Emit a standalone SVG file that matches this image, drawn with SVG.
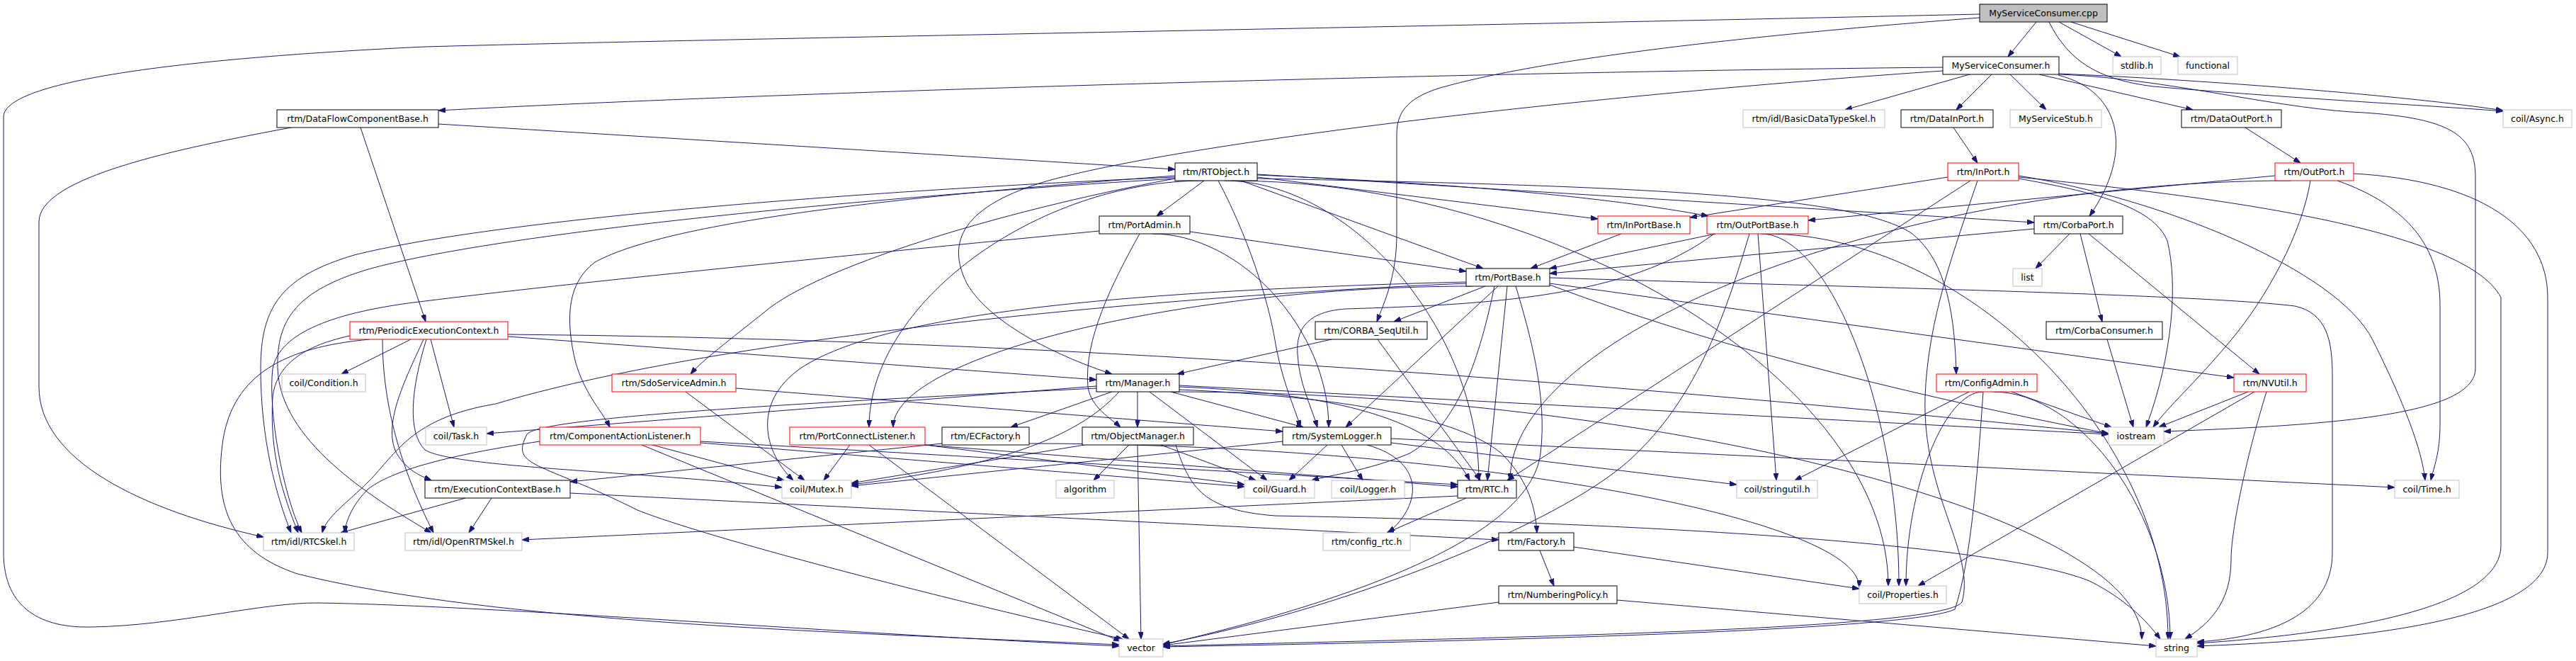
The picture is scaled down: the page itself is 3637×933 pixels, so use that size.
<svg xmlns="http://www.w3.org/2000/svg" width="3637" height="933" viewBox="0 0 3637 933">
<style>
.node rect{fill:#ffffff;stroke:#000000;stroke-width:1}
.node.ext rect{stroke:#bfbfbf}
.node.red rect{stroke:#ff0000}
.node.root rect{fill:#bfbfbf;stroke:#000000}
.node text{font-family:"DejaVu Sans","Liberation Sans",sans-serif;font-size:12.5px;fill:#000000;text-anchor:middle}
.e{fill:none;stroke:#191970;stroke-width:1;marker-end:url(#ah)}
</style>
<defs>
<marker id="ah" viewBox="0 0 10 7" refX="10" refY="3.5" markerWidth="10" markerHeight="7" markerUnits="userSpaceOnUse" orient="auto"><path d="M0,0L10,3.5L0,7z" fill="#191970" stroke="#191970"/></marker>
</defs>
<rect width="3637" height="933" fill="#ffffff"/>
<g id="edges">
<path class="e" d="M2875,31 L2835,80"/>
<path class="e" d="M2907,31 L2995,80"/>
<path class="e" d="M2924,31 L3078,80"/>
<path class="e" d="M2893,31 C2920,85 2960,112 3040,122 C3250,140 3450,150 3534,157"/>
<path class="e" d="M2795,20 C2000,38 1000,55 600,66 C300,80 5,110 5,165 L5,780 C5,860 60,887 130,885 C250,883 370,850 450,851 C700,855 1200,895 1580,912"/>
<path class="e" d="M2795,25 C2400,55 2150,90 2030,125 C1985,140 1972,160 1972,190 L1972,330 C1972,390 1955,425 1944,454"/>
<path class="e" d="M2743,95 C2200,100 1200,125 619,156"/>
<path class="e" d="M2743,100 C2300,130 1700,195 1480,255 C1360,290 1335,340 1365,400 C1400,460 1500,505 1570,528"/>
<path class="e" d="M2781,105 L2605,155"/>
<path class="e" d="M2812,105 L2762,155"/>
<path class="e" d="M2838,105 L2889,155"/>
<path class="e" d="M2906,106 C3000,130 3010,220 2950,305"/>
<path class="e" d="M2879,105 L3096,155"/>
<path class="e" d="M2907,104 C3100,112 3400,135 3534,156"/>
<path class="e" d="M2907,105 C3050,110 3200,150 3320,158 C3460,165 3495,190 3495,250 L3495,520 C3495,585 3300,600 3055,609"/>
<path class="e" d="M619,175 L1659,239"/>
<path class="e" d="M509,180 L601,454"/>
<path class="e" d="M411,180 C250,210 55,250 55,313 L55,546 C55,650 200,720 372,758"/>
<path class="e" d="M2758,180 L2792,230"/>
<path class="e" d="M3170,180 L3248,230"/>
<path class="e" d="M1700,255 L1633,305"/>
<path class="e" d="M1752,255 L2094,379"/>
<path class="e" d="M1775,250 L2256,309"/>
<path class="e" d="M1775,247 Q2200,265 2412,305"/>
<path class="e" d="M1775,246 L2872,314"/>
<path class="e" d="M1775,252 C2300,262 2620,275 2700,330 C2750,370 2760,450 2762,528"/>
<path class="e" d="M1737,255 C2201,255 2666,541 2666,827"/>
<path class="e" d="M1659,252 C1400,300 1150,380 1080,440 C1030,480 990,510 975,528"/>
<path class="e" d="M1659,248 C1300,275 950,310 840,370 C800,400 800,450 810,500 C820,550 850,580 861,603"/>
<path class="e" d="M1700,255 C1463,255 1227,429 1227,603"/>
<path class="e" d="M1720,255 C1760,330 1790,420 1800,480 C1810,540 1830,580 1836,603"/>
<path class="e" d="M1728,255 C1908,255 2088,466 2088,678"/>
<path class="e" d="M1659,250 C1200,270 700,310 500,360 C400,390 368,430 368,520 C368,620 390,700 411,752"/>
<path class="e" d="M1659,252 C1200,280 700,330 520,380 C420,410 390,450 392,520 C395,620 520,700 609,752"/>
<path class="e" d="M1680,327 L2070,383"/>
<path class="e" d="M1609,330 C1570,400 1530,480 1536,546 C1540,575 1570,592 1582,603"/>
<path class="e" d="M1627,330 C1752,330 1876,466 1876,603"/>
<path class="e" d="M1552,326 C1200,360 800,400 600,425 C470,440 395,470 385,520 C378,580 400,700 426,752"/>
<path class="e" d="M2289,330 L2161,379"/>
<path class="e" d="M2422,330 L2188,379"/>
<path class="e" d="M2420,330 C2300,420 2100,430 1900,436 C1840,440 1830,470 1832,500 C1834,540 1850,570 1860,603"/>
<path class="e" d="M2482,330 L2508,678"/>
<path class="e" d="M2486,330 C2583,330 2681,578 2681,827"/>
<path class="e" d="M2470,330 C2440,430 2400,560 2300,650 C2200,740 1900,860 1642,909"/>
<path class="e" d="M2493,330 C2777,330 3061,616 3061,902"/>
<path class="e" d="M2750,250 L2386,307"/>
<path class="e" d="M2782,255 L2128,678"/>
<path class="e" d="M2792,255 C2760,350 2722,450 2718,560 C2714,700 2790,780 2770,850 C2740,890 2100,900 1642,912"/>
<path class="e" d="M2850,250 C3100,275 3480,320 3531,420 L3531,770 C3531,860 3300,895 3102,908"/>
<path class="e" d="M2850,248 C3050,280 3300,380 3350,480 C3400,580 3420,640 3424,678"/>
<path class="e" d="M2850,252 C2950,270 3040,290 3060,340 C3075,400 3068,500 3030,603"/>
<path class="e" d="M3212,248 L2553,311"/>
<path class="e" d="M3234,255 C2683,255 2132,466 2132,678"/>
<path class="e" d="M3262,255 C3250,330 3200,420 3150,480 C3100,540 3060,575 3040,603"/>
<path class="e" d="M3300,255 C3400,290 3445,350 3445,430 L3445,600 C3445,640 3436,660 3432,678"/>
<path class="e" d="M3323,245 C3500,255 3597,320 3597,420 L3597,780 C3597,880 3300,905 3102,912"/>
<path class="e" d="M2872,323 L2188,386"/>
<path class="e" d="M2922,330 L2874,379"/>
<path class="e" d="M2937,330 L2968,454"/>
<path class="e" d="M2949,330 L3190,528"/>
<path class="e" d="M2097,404 L1968,454"/>
<path class="e" d="M2115,404 L1900,603"/>
<path class="e" d="M2110,404 C2090,500 2060,600 1990,640 C1930,665 1880,670 1852,678"/>
<path class="e" d="M2128,404 L2100,678"/>
<path class="e" d="M2140,404 C2160,470 2185,560 2175,640 C2160,760 1900,850 1642,910"/>
<path class="e" d="M2078,404 C1670,404 1261,503 1261,603"/>
<path class="e" d="M2070,400 C1600,420 1000,480 700,570 C580,590 560,640 520,680 C490,710 460,730 455,752"/>
<path class="e" d="M2070,398 C1600,410 1250,440 1130,520 C1060,570 1080,640 1120,678"/>
<path class="e" d="M2188,402 Q2500,520 2977,612"/>
<path class="e" d="M2188,392 C2600,405 3100,415 3240,432 C3285,442 3293,480 3293,530 L3293,780 C3293,870 3200,900 3102,906"/>
<path class="e" d="M2188,400 L3154,533"/>
<path class="e" d="M580,479 L482,528"/>
<path class="e" d="M608,479 L641,603"/>
<path class="e" d="M602,479 C580,550 575,610 600,635 C640,660 900,665 1104,688"/>
<path class="e" d="M522,479 C400,490 330,530 315,620 C300,720 330,780 420,810 C700,880 1200,893 1580,910"/>
<path class="e" d="M717,472 Q1700,480 2977,612"/>
<path class="e" d="M494,474 C420,490 390,520 385,560 C380,640 400,700 421,752"/>
<path class="e" d="M540,479 C540,560 560,650 612,752"/>
<path class="e" d="M717,475 L1548,536"/>
<path class="e" d="M598,479 C570,540 540,600 560,640 C575,665 595,672 609,678"/>
<path class="e" d="M1945,479 L2090,678"/>
<path class="e" d="M1880,479 L1662,528"/>
<path class="e" d="M2975,479 L3012,603"/>
<path class="e" d="M968,553 L1136,678"/>
<path class="e" d="M1039,548 L1811,609"/>
<path class="e" d="M1548,545 L687,612"/>
<path class="e" d="M1548,548 C1100,570 760,590 744,613 C720,660 760,650 900,720 C1000,760 1350,850 1585,902"/>
<path class="e" d="M1570,553 L1427,603"/>
<path class="e" d="M1580,553 C1520,620 1400,660 1202,684"/>
<path class="e" d="M1606,553 L1606,603"/>
<path class="e" d="M1623,553 L1789,678"/>
<path class="e" d="M1653,553 L1840,603"/>
<path class="e" d="M1665,546 C1880,555 2030,590 2075,678"/>
<path class="e" d="M1665,550 C1900,560 2060,590 2120,640 C2160,680 2168,720 2170,752"/>
<path class="e" d="M1665,544 L2977,613"/>
<path class="e" d="M1655,553 C2340,553 3024,728 3024,902"/>
<path class="e" d="M1594,628 L1544,678"/>
<path class="e" d="M1606,628 L1611,902"/>
<path class="e" d="M1531,628 L1202,682"/>
<path class="e" d="M1639,628 L1773,678"/>
<path class="e" d="M1660,628 C1680,690 1700,720 1800,728 C2200,735 2800,760 2950,820 C3000,845 3030,875 3050,902"/>
<path class="e" d="M1330,626 L805,680"/>
<path class="e" d="M1453,626 C2039,626 2625,727 2625,829"/>
<path class="e" d="M1811,623 L1202,686"/>
<path class="e" d="M1874,628 L1820,678"/>
<path class="e" d="M1894,628 L1924,678"/>
<path class="e" d="M1930,628 C2010,650 2010,710 1960,752"/>
<path class="e" d="M1964,625 L2452,684"/>
<path class="e" d="M1964,619 L3381,688"/>
<path class="e" d="M657,703 L481,752"/>
<path class="e" d="M694,703 L662,752"/>
<path class="e" d="M805,696 L2116,762"/>
<path class="e" d="M762,623 C650,640 560,660 520,690 C500,710 490,730 486,752"/>
<path class="e" d="M921,628 L1107,678"/>
<path class="e" d="M989,625 L1757,687"/>
<path class="e" d="M989,623 L2058,684"/>
<path class="e" d="M906,628 L1582,905"/>
<path class="e" d="M1200,628 L1163,678"/>
<path class="e" d="M1227,628 L1594,902"/>
<path class="e" d="M1306,628 L1757,684"/>
<path class="e" d="M1306,628 L2058,687"/>
<path class="e" d="M2780,553 L2534,678"/>
<path class="e" d="M2800,553 C2745,553 2691,690 2691,827"/>
<path class="e" d="M2840,553 L2981,603"/>
<path class="e" d="M2814,553 C2939,553 3064,728 3064,902"/>
<path class="e" d="M2800,553 C2790,700 2780,800 2760,860 C2700,890 2100,905 1642,913"/>
<path class="e" d="M3174,553 L3048,603"/>
<path class="e" d="M3200,553 C3170,650 3150,750 3150,790 C3150,850 3120,880 3085,902"/>
<path class="e" d="M3183,553 L2708,827"/>
<path class="e" d="M2070,703 L1958,752"/>
<path class="e" d="M2058,700 L737,762"/>
<path class="e" d="M2174,777 L2194,827"/>
<path class="e" d="M2222,772 L2625,831"/>
<path class="e" d="M2116,850 L1642,911"/>
<path class="e" d="M2283,847 L3044,912"/>
</g>
<g id="n_cpp" class="node root"><rect x="2795" y="6" width="180" height="25"/><text x="2885" y="23">MyServiceConsumer.cpp</text></g>
<g id="n_msch" class="node"><rect x="2743" y="80" width="164" height="25"/><text x="2825" y="97">MyServiceConsumer.h</text></g>
<g id="n_stdlib" class="node ext"><rect x="2983" y="80" width="68" height="25"/><text x="3017" y="97">stdlib.h</text></g>
<g id="n_functional" class="node ext"><rect x="3075" y="80" width="84" height="25"/><text x="3117" y="97">functional</text></g>
<g id="n_dfcb" class="node"><rect x="391" y="155" width="228" height="25"/><text x="505" y="172">rtm/DataFlowComponentBase.h</text></g>
<g id="n_basicdt" class="node ext"><rect x="2461" y="155" width="200" height="25"/><text x="2561" y="172">rtm/idl/BasicDataTypeSkel.h</text></g>
<g id="n_datainport" class="node"><rect x="2684" y="155" width="130" height="25"/><text x="2749" y="172">rtm/DataInPort.h</text></g>
<g id="n_stub" class="node ext"><rect x="2838" y="155" width="129" height="25"/><text x="2902.5" y="172">MyServiceStub.h</text></g>
<g id="n_dataoutport" class="node"><rect x="3080" y="155" width="141" height="25"/><text x="3150.5" y="172">rtm/DataOutPort.h</text></g>
<g id="n_async" class="node ext"><rect x="3534" y="155" width="97" height="25"/><text x="3582.5" y="172">coil/Async.h</text></g>
<g id="n_rtobject" class="node"><rect x="1659" y="230" width="116" height="25"/><text x="1717" y="247">rtm/RTObject.h</text></g>
<g id="n_inport" class="node red"><rect x="2750" y="230" width="100" height="25"/><text x="2800" y="247">rtm/InPort.h</text></g>
<g id="n_outport" class="node red"><rect x="3212" y="230" width="111" height="25"/><text x="3267.5" y="247">rtm/OutPort.h</text></g>
<g id="n_portadmin" class="node"><rect x="1552" y="305" width="128" height="25"/><text x="1616" y="322">rtm/PortAdmin.h</text></g>
<g id="n_inportbase" class="node red"><rect x="2256" y="305" width="130" height="25"/><text x="2321" y="322">rtm/InPortBase.h</text></g>
<g id="n_outportbase" class="node red"><rect x="2410" y="305" width="143" height="25"/><text x="2481.5" y="322">rtm/OutPortBase.h</text></g>
<g id="n_corbaport" class="node"><rect x="2872" y="305" width="125" height="25"/><text x="2934.5" y="322">rtm/CorbaPort.h</text></g>
<g id="n_portbase" class="node"><rect x="2070" y="379" width="118" height="25"/><text x="2129" y="396">rtm/PortBase.h</text></g>
<g id="n_list" class="node ext"><rect x="2842" y="379" width="41" height="25"/><text x="2862.5" y="396">list</text></g>
<g id="n_periodic" class="node red"><rect x="494" y="454" width="223" height="25"/><text x="605.5" y="471">rtm/PeriodicExecutionContext.h</text></g>
<g id="n_sequtil" class="node"><rect x="1857" y="454" width="158" height="25"/><text x="1936" y="471">rtm/CORBA_SeqUtil.h</text></g>
<g id="n_corbaconsumer" class="node"><rect x="2889" y="454" width="164" height="25"/><text x="2971" y="471">rtm/CorbaConsumer.h</text></g>
<g id="n_condition" class="node ext"><rect x="398" y="528" width="118" height="25"/><text x="457" y="545">coil/Condition.h</text></g>
<g id="n_sdo" class="node red"><rect x="864" y="528" width="175" height="25"/><text x="951.5" y="545">rtm/SdoServiceAdmin.h</text></g>
<g id="n_manager" class="node"><rect x="1548" y="528" width="117" height="25"/><text x="1606.5" y="545">rtm/Manager.h</text></g>
<g id="n_configadmin" class="node red"><rect x="2734" y="528" width="142" height="25"/><text x="2805" y="545">rtm/ConfigAdmin.h</text></g>
<g id="n_nvutil" class="node red"><rect x="3154" y="528" width="102" height="25"/><text x="3205" y="545">rtm/NVUtil.h</text></g>
<g id="n_task" class="node ext"><rect x="601" y="603" width="86" height="25"/><text x="644" y="620">coil/Task.h</text></g>
<g id="n_cal" class="node red"><rect x="762" y="603" width="227" height="25"/><text x="875.5" y="620">rtm/ComponentActionListener.h</text></g>
<g id="n_pcl" class="node red"><rect x="1115" y="603" width="191" height="25"/><text x="1210.5" y="620">rtm/PortConnectListener.h</text></g>
<g id="n_ecfactory" class="node"><rect x="1330" y="603" width="123" height="25"/><text x="1391.5" y="620">rtm/ECFactory.h</text></g>
<g id="n_objmgr" class="node"><rect x="1528" y="603" width="157" height="25"/><text x="1606.5" y="620">rtm/ObjectManager.h</text></g>
<g id="n_syslogger" class="node"><rect x="1811" y="603" width="153" height="25"/><text x="1887.5" y="620">rtm/SystemLogger.h</text></g>
<g id="n_iostream" class="node ext"><rect x="2977" y="603" width="78" height="25"/><text x="3016" y="620">iostream</text></g>
<g id="n_ecbase" class="node"><rect x="600" y="678" width="205" height="25"/><text x="702.5" y="695">rtm/ExecutionContextBase.h</text></g>
<g id="n_mutex" class="node ext"><rect x="1104" y="678" width="98" height="25"/><text x="1153" y="695">coil/Mutex.h</text></g>
<g id="n_algorithm" class="node ext"><rect x="1491" y="678" width="82" height="25"/><text x="1532" y="695">algorithm</text></g>
<g id="n_guard" class="node ext"><rect x="1757" y="678" width="99" height="25"/><text x="1806.5" y="695">coil/Guard.h</text></g>
<g id="n_logger" class="node ext"><rect x="1880" y="678" width="103" height="25"/><text x="1931.5" y="695">coil/Logger.h</text></g>
<g id="n_rtc" class="node"><rect x="2058" y="678" width="83" height="25"/><text x="2099.5" y="695">rtm/RTC.h</text></g>
<g id="n_stringutil" class="node ext"><rect x="2452" y="678" width="114" height="25"/><text x="2509" y="695">coil/stringutil.h</text></g>
<g id="n_time" class="node ext"><rect x="3381" y="678" width="91" height="25"/><text x="3426.5" y="695">coil/Time.h</text></g>
<g id="n_rtcskel" class="node ext"><rect x="372" y="752" width="128" height="25"/><text x="436" y="769">rtm/idl/RTCSkel.h</text></g>
<g id="n_openrtmskel" class="node ext"><rect x="572" y="752" width="165" height="25"/><text x="654.5" y="769">rtm/idl/OpenRTMSkel.h</text></g>
<g id="n_configrtc" class="node ext"><rect x="1868" y="752" width="123" height="25"/><text x="1929.5" y="769">rtm/config_rtc.h</text></g>
<g id="n_factory" class="node"><rect x="2116" y="752" width="106" height="25"/><text x="2169" y="769">rtm/Factory.h</text></g>
<g id="n_properties" class="node ext"><rect x="2625" y="827" width="123" height="25"/><text x="2686.5" y="844">coil/Properties.h</text></g>
<g id="n_numbering" class="node"><rect x="2116" y="827" width="167" height="25"/><text x="2199.5" y="844">rtm/NumberingPolicy.h</text></g>
<g id="n_vector" class="node ext"><rect x="1580" y="902" width="62" height="25"/><text x="1611" y="919">vector</text></g>
<g id="n_string" class="node ext"><rect x="3044" y="902" width="58" height="25"/><text x="3073" y="919">string</text></g>
</svg>
